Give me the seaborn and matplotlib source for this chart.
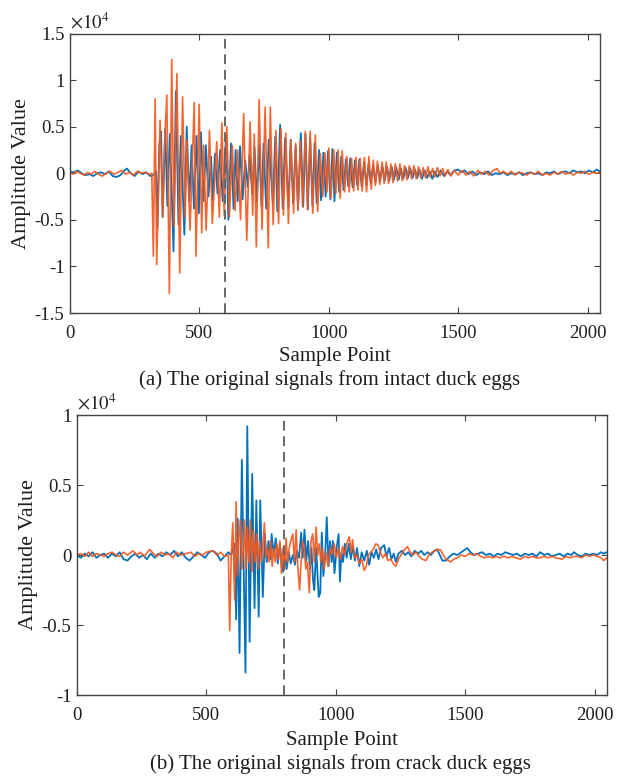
import numpy as np
import pandas as pd
import seaborn as sns
import matplotlib
matplotlib.use("Agg")
import matplotlib.pyplot as plt

# ---------------- data (amplitude in units of 1e4) ----------------
# (a) intact duck eggs
top_orange_x = [0, 12, 25, 40, 55, 68, 80, 95, 110, 125, 140, 155, 170, 185, 200, 215, 230, 245, 260, 275, 290, 305, 316,
                322, 329, 335, 348, 358, 366, 374, 384, 393, 402, 413, 424, 435, 445, 451, 464, 480, 487, 499, 509, 516, 526,
                539, 550, 567, 577, 587, 596, 606, 616, 627, 638, 648, 659, 671, 683, 696, 706, 712, 720, 731, 742, 754, 766,
                774, 785, 796, 806, 815, 825, 834, 844, 853, 864, 872, 881, 890, 899, 909, 918, 928, 938, 948, 957, 967, 977,
                985, 993, 1000, 1008, 1019, 1027, 1036, 1044, 1052, 1061, 1070, 1079, 1088, 1096, 1105, 1113, 1121, 1129, 1138,
                1146, 1155, 1164, 1172, 1180, 1188, 1197, 1206, 1214, 1222, 1231, 1240, 1248, 1257, 1266, 1275, 1284, 1293, 1302,
                1311, 1320, 1329, 1338, 1347, 1356, 1365, 1374, 1383, 1392, 1401, 1410, 1420, 1430, 1440, 1450, 1460, 1472, 1485,
                1500, 1515, 1530, 1545, 1560, 1575, 1590, 1605, 1620, 1635, 1650, 1662, 1675, 1690, 1705, 1720, 1735, 1750, 1765,
                1780, 1795, 1810, 1825, 1840, 1855, 1870, 1885, 1900, 1915, 1930, 1945, 1960, 1975, 1990, 2005, 2020, 2035, 2047]
top_orange_y = [0.01, -0.01, 0.02, 0.0, -0.02, 0.01, -0.01, 0.02, -0.01, -0.03, 0.0, 0.02, -0.01, 0.01, 0.03, -0.01, 0.01, -0.02, 0.02, 0.0, 0.01, -0.01, 0.0,
                -0.89, 0.80, -0.98, 0.57, -0.47, 0.35, 0.84, -1.29, 1.22, -0.57, 1.07, -1.07, 0.82, -0.47, 0.36, -0.61, 0.76, -0.89, 0.74, -0.64, 0.30, -0.61,
                0.46, -0.54, 0.34, -0.47, 0.54, -0.45, 0.50, -0.47, 0.30, -0.40, 0.25, -0.50, 0.64, -0.72, 0.55, -0.45, 0.42, -0.79, 0.79, -0.60, 0.71, -0.80,
                0.71, -0.55, 0.46, -0.54, 0.48, -0.45, 0.43, -0.54, 0.36, -0.43, 0.32, -0.40, 0.35, -0.36, 0.45, -0.39, 0.45, -0.43, 0.41, -0.41, 0.21, -0.25,
                0.22, -0.20, 0.27, -0.27, 0.25, -0.22, 0.25, -0.27, 0.24, -0.20, 0.18, -0.20, 0.16, -0.19, 0.17, -0.18, 0.16, -0.19, 0.17,
                -0.20, 0.18, -0.17, 0.14, -0.13, 0.13, -0.12, 0.12, -0.11, 0.12, -0.11, 0.10, -0.10, 0.10, -0.08, 0.10, -0.08, 0.08, -0.07,
                0.08, -0.06, 0.08, -0.06, 0.07, -0.05, 0.06, -0.05, 0.07, -0.04, 0.05, -0.04, 0.06, -0.03, 0.05, -0.03, 0.04, -0.03, 0.03,
                -0.02, 0.03, -0.02, 0.02, -0.03, 0.03, -0.01, 0.02, -0.02, 0.03, 0.05, 0.0, 0.02, -0.01, 0.02, -0.02, 0.01, 0.0, -0.02,
                0.01, -0.01, 0.02, -0.02, 0.0, -0.02, 0.01, -0.01, 0.02, -0.01, 0.01, -0.02, 0.01, 0.0, 0.02, -0.01, 0.01, 0.0, 0.01]

top_blue_x = [0, 15, 30, 45, 60, 75, 90, 105, 120, 135, 150, 165, 180, 195, 210, 220, 235, 250, 265, 280, 295, 310, 322, 333,
              338, 345, 352, 358, 368, 376, 386, 400, 409, 419, 428, 442, 451, 461, 470, 479, 489, 498, 506, 516, 525, 535, 545,
              552, 560, 570, 580, 590, 603, 612, 622, 632, 640, 648, 657, 667, 677, 687, 694, 704, 713, 722, 731, 740, 748, 758,
              768, 784, 793, 801, 812, 822, 831, 844, 853, 862, 872, 881, 892, 901, 910, 919, 928, 937, 945, 953, 962, 970, 979,
              988, 997, 1006, 1014, 1022, 1031, 1040, 1048, 1057, 1066, 1075, 1083, 1092, 1101, 1110, 1118, 1127, 1136, 1145, 1154,
              1162, 1171, 1180, 1189, 1198, 1207, 1216, 1225, 1234, 1243, 1252, 1261, 1270, 1279, 1288, 1297, 1306, 1315, 1324,
              1333, 1342, 1351, 1360, 1370, 1380, 1390, 1400, 1410, 1420, 1432, 1445, 1458, 1470, 1485, 1500, 1512, 1525, 1540,
              1555, 1570, 1585, 1600, 1615, 1630, 1645, 1660, 1675, 1690, 1705, 1720, 1735, 1750, 1765, 1780, 1795, 1810, 1825,
              1840, 1855, 1870, 1885, 1900, 1915, 1930, 1945, 1960, 1975, 1990, 2005, 2020, 2035, 2047]
top_blue_y = [0.02, 0.01, 0.03, 0.0, -0.02, -0.01, -0.03, 0.0, 0.01, -0.01, 0.02, -0.03, -0.04, -0.02, 0.03, 0.05, 0.0, -0.03, 0.02, -0.01, 0.01, -0.03, -0.02, 0.02,
              -0.59, 0.30, 0.45, -0.47, 0.48, -0.35, 0.42, -0.84, 0.88, -0.55, 0.40, -0.66, 0.50, -0.30, 0.30, -0.38, 0.40, -0.43, 0.44, -0.30, 0.30, -0.25, 0.18,
              -0.29, 0.21, -0.22, 0.25, -0.30, 0.41, -0.50, 0.32, -0.38, 0.25, -0.30, 0.29, -0.28, 0.14, -0.15, 0.20, -0.22, 0.28, -0.30, 0.30, -0.35, 0.32, -0.38,
              0.36, -0.33, 0.39, -0.41, 0.52, -0.38, 0.38, -0.36, 0.36, -0.32, 0.30, -0.39, 0.43, -0.36, 0.42, -0.39, 0.38, -0.35, 0.32, -0.32, 0.25, -0.29, 0.22,
              -0.25, 0.24, -0.28, 0.26, -0.30, 0.22, -0.20, 0.18, -0.18, 0.15, -0.14, 0.16, -0.15, 0.14, -0.13, 0.15, -0.14, 0.12, -0.13, 0.10,
              -0.11, 0.09, -0.10, 0.09, -0.09, 0.08, -0.08, 0.07, -0.08, 0.07, -0.07, 0.06, -0.07, 0.05, -0.06, 0.06, -0.05, 0.05, -0.05,
              0.04, -0.05, 0.04, -0.06, 0.03, -0.05, 0.02, -0.06, 0.02, -0.04, 0.03, -0.03, 0.02, -0.02, 0.03, 0.04, 0.01, 0.03, -0.01,
              0.02, -0.02, 0.01, -0.01, 0.02, -0.02, 0.0, -0.01, 0.01, -0.02, 0.0, -0.01, 0.01, -0.02, 0.0, 0.01, -0.01, 0.0, -0.02,
              0.01, 0.0, 0.02, -0.01, 0.01, 0.02, 0.0, 0.03, 0.01, 0.02, 0.0, 0.03, 0.01, 0.04, 0.02]

# (b) crack duck eggs
bot_blue_x = [0, 15, 30, 45, 60, 75, 90, 105, 120, 135, 150, 165, 180, 195, 210, 225, 240, 255, 270, 285, 300, 315, 330, 345,
              360, 375, 390, 405, 420, 435, 450, 465, 480, 495, 510, 525, 540, 555, 570, 585, 596,
              609, 615, 621, 628, 637, 651, 658, 667, 677, 686, 693, 702, 708, 718, 726, 733, 740, 748, 752, 760, 768, 776, 784,
              790, 796, 804, 810, 818, 826, 834, 842, 850, 858, 866, 872, 879, 886, 893, 900, 906, 912, 917, 924, 934, 940, 946,
              952, 959, 965, 972, 978, 984, 989, 995, 1003, 1011, 1016, 1022, 1028, 1035, 1042, 1050, 1058, 1066, 1074, 1082,
              1091, 1100, 1110, 1120, 1129, 1138, 1147, 1156, 1165, 1175, 1187, 1196, 1206, 1215, 1224, 1232, 1242, 1255, 1268,
              1280, 1292, 1305, 1318, 1330, 1342, 1355, 1368, 1380, 1392, 1402, 1412, 1425, 1440, 1455, 1470, 1485, 1500, 1508,
              1520, 1535, 1550, 1565, 1580, 1595, 1610, 1625, 1640, 1655, 1670, 1685, 1700, 1715, 1730, 1745, 1760, 1775, 1790,
              1805, 1820, 1835, 1850, 1865, 1880, 1895, 1910, 1920, 1935, 1950, 1965, 1980, 1995, 2010, 2025, 2035, 2047]
bot_blue_y = [0.0, -0.02, 0.01, -0.01, 0.02, -0.02, 0.0, 0.01, -0.02, 0.01, -0.01, 0.02, -0.03, -0.04, -0.01, 0.01, -0.02, 0.0, -0.03, 0.01, -0.02, 0.01, -0.01, 0.02,
              0.0, 0.03, -0.01, 0.02, -0.02, -0.04, -0.01, 0.02, 0.0, -0.02, 0.02, 0.03, 0.01, -0.04, -0.01, 0.02, 0.0,
              0.08, -0.46, 0.26, -0.70, 0.68, -0.84, 0.92, -0.62, 0.58, -0.38, 0.39, -0.44, 0.39, -0.30, 0.15, -0.05, 0.10, -0.03, 0.15, 0.0, 0.12, -0.06, 0.08,
              -0.05, -0.12, 0.0, -0.10, 0.02, -0.06, 0.0, -0.07, 0.03, -0.02, 0.16, -0.02, 0.18, -0.04, 0.10, -0.10, 0.05, -0.18, -0.25, 0.05, -0.30, -0.27, 0.16,
              -0.15, 0.0, 0.27, -0.08, 0.10, -0.05, 0.10, -0.13, 0.05, 0.15, -0.19, 0.02, -0.05, 0.08, -0.02, 0.08, -0.03, 0.06, -0.04, 0.05,
              -0.08, 0.02, -0.04, 0.03, -0.07, 0.02, -0.02, 0.04, -0.03, 0.05, 0.07, -0.01, 0.05, -0.03, 0.01, -0.05, 0.01, 0.03, 0.0,
              0.02, -0.01, 0.03, 0.01, 0.03, 0.0, 0.02, 0.0, 0.03, 0.04, 0.0, -0.04, -0.04, -0.01, 0.01, 0.0, 0.02, 0.04, 0.05,
              0.02, 0.0, 0.01, 0.02, 0.0, 0.01, -0.01, 0.01, 0.0, 0.02, 0.01, 0.0, 0.01, -0.01, 0.01, 0.0, 0.01, -0.01, 0.02,
              0.0, 0.01, -0.01, 0.0, 0.01, -0.01, 0.01, 0.0, 0.02, 0.0, -0.01, 0.01, 0.0, 0.01, 0.0, 0.02, 0.01, 0.02]

bot_orange_x = [0, 15, 30, 45, 60, 76, 90, 105, 120, 135, 150, 165, 180, 195, 217, 230, 245, 260, 281, 295, 310, 325, 340, 355,
                370, 385, 400, 422, 440, 455, 470, 485, 500, 525, 540, 555, 570, 585,
                590, 596, 602, 609, 615, 620, 625, 631, 637, 643, 647, 653, 658, 664, 670, 676, 682, 688, 694, 700, 706, 713, 719,
                724, 730, 736, 742, 748, 754, 760, 766, 772, 778, 784, 790, 796, 802, 808, 814, 820, 826, 834, 840, 847, 853, 860,
                866, 872, 878, 884, 890, 898, 904, 911, 917, 924, 930, 936, 942, 948, 955, 962, 970, 978, 986, 994, 1002, 1010,
                1018, 1026, 1034, 1042, 1052, 1060, 1065, 1073, 1082, 1090, 1100, 1110, 1118, 1126, 1135, 1145, 1155, 1164, 1172,
                1182, 1192, 1202, 1212, 1225, 1232, 1242, 1252, 1262, 1277, 1288, 1298, 1310, 1322, 1335, 1348, 1360, 1372, 1385,
                1393, 1405, 1415, 1425, 1437, 1444, 1455, 1470, 1485, 1500, 1515, 1530, 1545, 1560, 1575, 1590, 1605, 1620, 1635,
                1650, 1665, 1680, 1695, 1714, 1730, 1745, 1760, 1775, 1790, 1805, 1820, 1835, 1850, 1874, 1890, 1905, 1920, 1935,
                1950, 1965, 1980, 1995, 2010, 2025, 2035, 2047]
bot_orange_y = [0.0, 0.01, -0.01, 0.02, -0.01, 0.01, 0.0, -0.01, 0.01, 0.02, 0.0, -0.01, 0.02, 0.0, 0.03, 0.0, 0.02, -0.01, 0.04, 0.01, -0.01, 0.02, 0.0, 0.01,
                -0.02, 0.02, 0.0, 0.01, 0.02, -0.01, 0.01, 0.0, 0.02, 0.03, 0.0, 0.02, -0.01, 0.0,
                -0.54, 0.0, 0.23, -0.32, 0.38, -0.15, 0.10, 0.25, -0.10, 0.05, 0.25, -0.10, 0.20, -0.05, 0.25, -0.12, 0.18, -0.05, 0.15, -0.10, 0.10, -0.05, 0.08,
                0.23, -0.02, 0.05, -0.05, 0.10, -0.08, 0.05, -0.05, 0.08, -0.03, 0.10, -0.13, 0.05, -0.10, 0.12, -0.05, 0.05, 0.10, 0.15, -0.05, 0.18, -0.08, -0.25,
                -0.05, 0.10, 0.05, -0.10, -0.05, -0.27, 0.10, 0.15, -0.05, 0.20, 0.0, 0.08, -0.05, 0.05, -0.10, 0.02, -0.08, 0.05, 0.0, 0.08, -0.02, 0.05,
                -0.03, 0.06, 0.0, 0.08, 0.13, 0.02, 0.11, -0.02, 0.0, -0.06, -0.03, -0.11, -0.08, 0.0, 0.02, 0.04, 0.08, 0.07, 0.02,
                -0.02, 0.01, -0.04, -0.03, -0.07, -0.08, -0.03, 0.0, 0.03, 0.06, 0.02, 0.0, 0.02, -0.01, -0.03, -0.04, 0.0, 0.02, 0.03,
                0.04, 0.036, 0.0, -0.03, -0.04, -0.05, -0.03, -0.02, 0.0, -0.01, 0.01, 0.0, 0.01, -0.01, -0.02, -0.01, -0.02, -0.01, -0.02,
                -0.01, -0.02, -0.01, -0.02, -0.03, -0.01, -0.02, -0.01, -0.02, -0.02, -0.01, -0.02, -0.01, -0.02, -0.03, -0.01, -0.02, -0.01, -0.01,
                -0.02, 0.0, -0.01, 0.0, -0.01, -0.02, -0.04, -0.02]

x_ticks = [0, 500, 1000, 1500, 2000]
top_yticks = [-1.5, -1, -0.5, 0, 0.5, 1, 1.5]
top_ytick_labels = ["-1.5", "-1", "-0.5", "0", "0.5", "1", "1.5"]
bot_yticks = [-1, -0.5, 0, 0.5, 1]
bot_ytick_labels = ["-1", "-0.5", "0", "0.5", "1"]
top_dash = 600
bot_dash = 800
x_label = "Sample Point"
y_label = "Amplitude Value"
cap_a = "(a) The original signals from intact duck eggs"
cap_b = "(b) The original signals from crack duck eggs"

BLUE = "#0072BD"
ORANGE = "#F4581F"
TXT = "#1f1f1f"

# ---------------- style ----------------
sns.set_theme(style="white")
plt.rcParams["font.family"] = ["Liberation Serif", "DejaVu Serif"]
plt.rcParams["mathtext.fontset"] = "stix"
plt.rcParams["axes.edgecolor"] = "#444444"
plt.rcParams["axes.linewidth"] = 1.0

fig = plt.figure(figsize=(6.17, 7.76), dpi=100)
ax1 = fig.add_axes([70 / 617, (776 - 313) / 776, 530 / 617, 279.5 / 776])
ax2 = fig.add_axes([77 / 617, (776 - 695) / 776, 530 / 617, 280 / 776])

def draw(ax, bx, by, ox, oy, dash, yt, ytl, ylim, xlpad):
    dfb = pd.DataFrame({"s": bx, "v": by})
    dfo = pd.DataFrame({"s": ox, "v": oy})
    sns.lineplot(data=dfb, x="s", y="v", ax=ax, color=BLUE, lw=1.3, sort=False, estimator=None)
    sns.lineplot(data=dfo, x="s", y="v", ax=ax, color=ORANGE, lw=1.2, sort=False, estimator=None, alpha=0.92)
    ax.axvline(dash, color="#666666", lw=1.4, ls=(0, (5, 3)), zorder=5)
    ax.set_xlim(0, 2048)
    ax.set_ylim(*ylim)
    ax.set_xticks(x_ticks)
    ax.set_xticklabels([str(t) for t in x_ticks])
    ax.set_yticks(yt)
    ax.set_yticklabels(ytl)
    ax.tick_params(axis="both", which="both", direction="in", length=4, width=0.8,
                   top=True, right=True, bottom=True, left=True, labelsize=13.5,
                   colors="#444444", labelcolor=TXT)
    ax.tick_params(axis="x", pad=9)
    ax.tick_params(axis="y", pad=4)
    ax.set_xlabel(x_label, fontsize=15, color=TXT, labelpad=xlpad)
    ax.set_ylabel(y_label, fontsize=16, color=TXT, labelpad=3)
    ax.text(0.0, 1.005, r"$\times10^{4}$", transform=ax.transAxes, fontsize=13.5,
            color=TXT, ha="left", va="bottom")
    for s in ax.spines.values():
        s.set_visible(True)

draw(ax1, top_blue_x, top_blue_y, top_orange_x, top_orange_y, top_dash,
     top_yticks, top_ytick_labels, (-1.5, 1.5), 3)
draw(ax2, bot_blue_x, bot_blue_y, bot_orange_x, bot_orange_y, bot_dash,
     bot_yticks, bot_ytick_labels, (-1, 1), 5)

fig.text(330 / 617, 1 - 380 / 776, cap_a, ha="center", va="center", fontsize=15, color=TXT)
fig.text(340 / 617, 1 - 764 / 776, cap_b, ha="center", va="center", fontsize=15, color=TXT)

fig.savefig("out.png", dpi=100, facecolor="white")
